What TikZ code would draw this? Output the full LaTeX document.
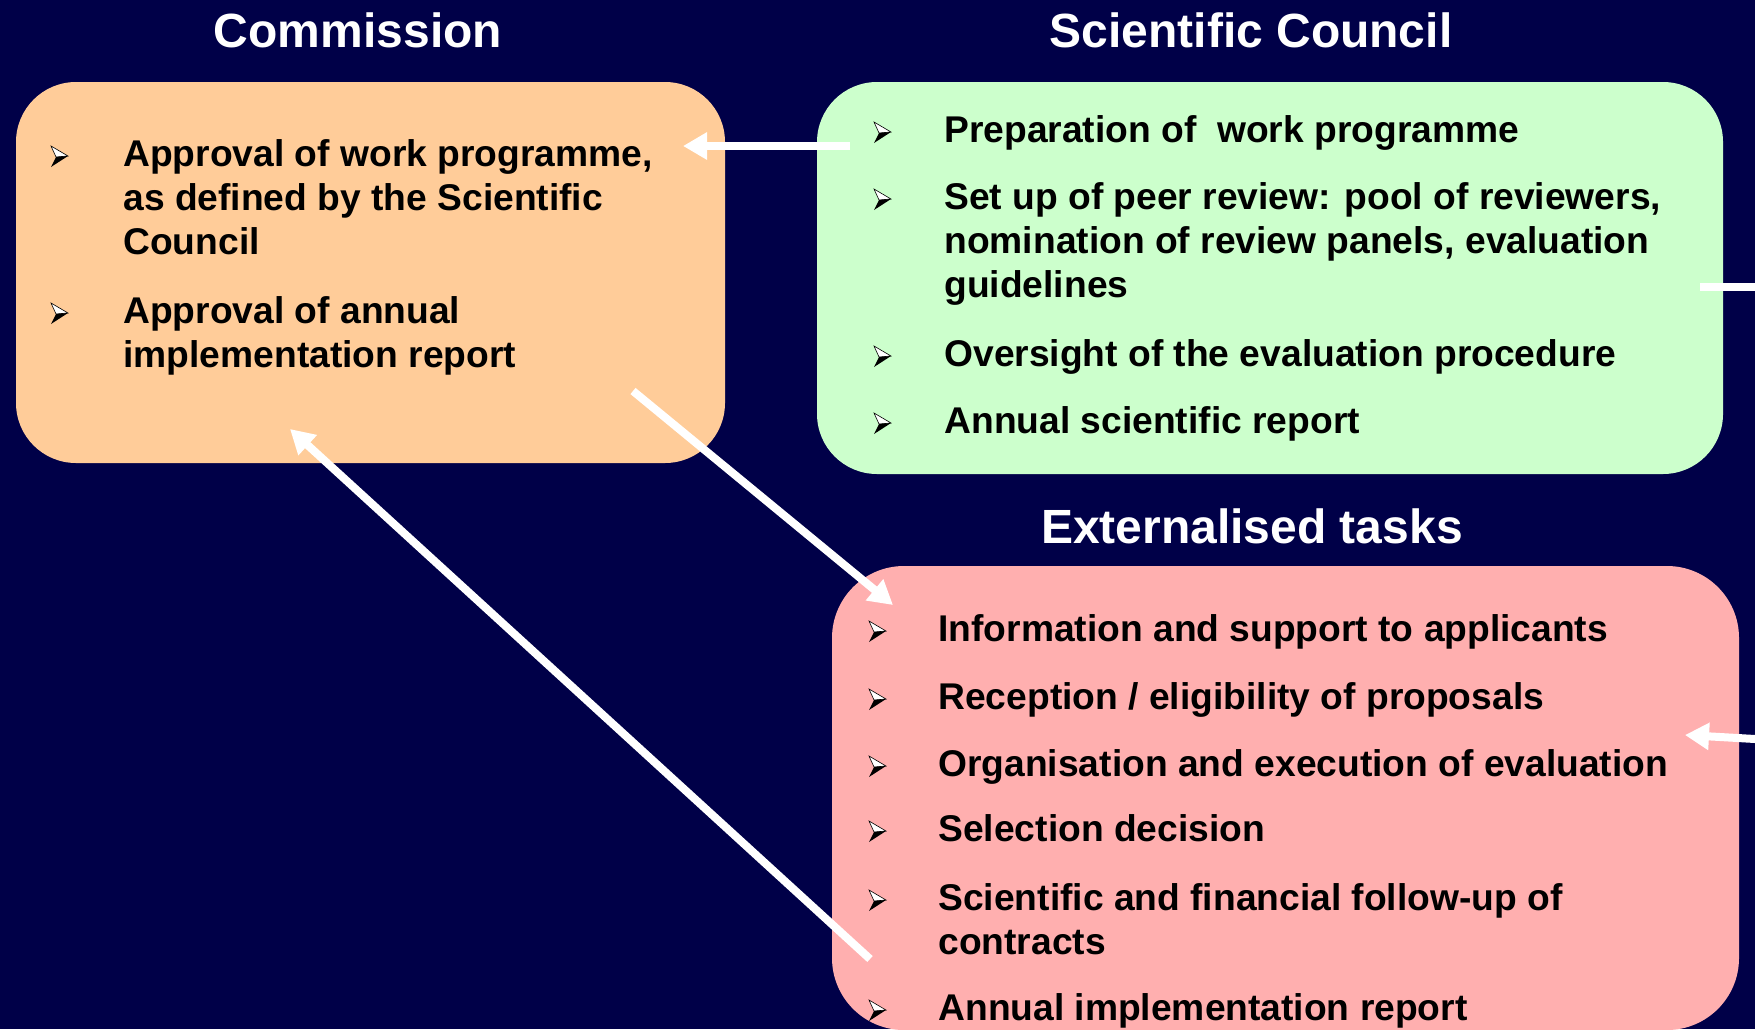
\documentclass[tikz,border=0pt]{standalone}
\usepackage{fontspec}
\setmainfont{Liberation Sans}
\usetikzlibrary{arrows.meta}
\definecolor{navy}{HTML}{000048}
\definecolor{comfill}{HTML}{FFCC99}
\definecolor{scifill}{HTML}{CCFFCC}
\definecolor{extfill}{HTML}{FFAFAF}
\tikzset{
  bul/.pic={
    \filldraw[draw=black, fill=white, line width=0.3pt] (-8,-10) -- (9,0) -- (-3,1) -- cycle;
    \fill[black] (-3,1) -- (9,0) -- (-8,11) -- cycle;
  }
}
\begin{document}
\begin{tikzpicture}[x=0.5pt, y=-0.5pt,
    box/.style={draw=none, rounded corners=30pt, inner sep=0pt},
    title/.style={text=white, font=\fontsize{24}{28}\selectfont\bfseries, anchor=base, inner sep=0pt},
    item/.style={text=black, font=\fontsize{18.6}{22}\selectfont\bfseries, align=left, anchor=base west, inner sep=0pt},
    link/.style={white, line width=4pt, -{Triangle[length=12pt, width=13pt]}}]
        \useasboundingbox (0, 0) rectangle (1755, 1029);
        \fill[navy] (0, 0) rectangle (1755, 1029);
        % boxes
        \node[box, fill=comfill, minimum width=354.5pt, minimum height=190.5pt] (com) at (370.5, 272.5) {};
        \node[box, fill=scifill, minimum width=453pt, minimum height=196pt] (sci) at (1270, 278) {};
        \node[box, fill=extfill, rounded corners=36pt, minimum width=453.5pt, minimum height=232pt] (ext) at (1285.5, 798) {};
        % titles
        \node[title] (comtitle) at (358, 47) {Commission};
        \node[title] (scititle) at (1251, 47) {Scientific Council};
        \node[title] (exttitle) at (1252, 543) {Externalised tasks};
        % Commission (multi-line nodes sit on their last baseline)
        \node[item] (com1) at (123, 254) {Approval of work programme,\\as defined by the Scientific\\Council};
        \node[item] (com2) at (123, 367) {Approval of annual\\implementation report};
        \foreach \y in {166, 323} \pic at (59, \y - 10) {bul};
        % Scientific Council
        \node[item] (sci1) at (944, 142) {Preparation of\ \ work programme};
        \node[item] (sci2) at (944, 297) {Set up of peer review: pool of reviewers,\\nomination of review panels, evaluation\\guidelines};
        \node[item] (sci3) at (944, 366) {Oversight of the evaluation procedure};
        \node[item] (sci4) at (944, 433) {Annual scientific report};
        \foreach \y in {142, 209, 366, 433} \pic at (882, \y - 10) {bul};
        % Externalised tasks
        \node[item] (ext1) at (938, 641) {Information and support to applicants};
        \node[item] (ext2) at (938, 709) {Reception / eligibility of proposals};
        \node[item] (ext3) at (938, 776) {Organisation and execution of evaluation};
        \node[item] (ext4) at (938, 841) {Selection decision};
        \node[item] (ext5) at (938, 954) {Scientific and financial follow-up of\\contracts};
        \node[item] (ext6) at (938, 1020) {Annual implementation report};
        \foreach \y in {641, 709, 776, 841, 910, 1020} \pic at (877, \y - 10) {bul};
        % arrow ends
        \coordinate (a1s) at (850, 146);
        \coordinate (a1e) at (683, 146);
        \coordinate (a2s) at (633, 391);
        \coordinate (a2e) at (893, 605);
        \coordinate (a3s) at (870, 959);
        \coordinate (a3e) at (290, 429);
        \coordinate (a4s) at (1755, 287);
        \coordinate (a4e) at (1700, 287);
        \coordinate (a5s) at (1755, 739);
        \coordinate (a5e) at (1685, 735);
        \draw[link] (a1s) -- (a1e);
        \draw[link] (a2s) -- (a2e);
        \draw[link] (a3s) -- (a3e);
        \draw[white, line width=4pt] (a4s) -- (a4e);
        \draw[link] (a5s) -- (a5e);
\end{tikzpicture}
\end{document}
